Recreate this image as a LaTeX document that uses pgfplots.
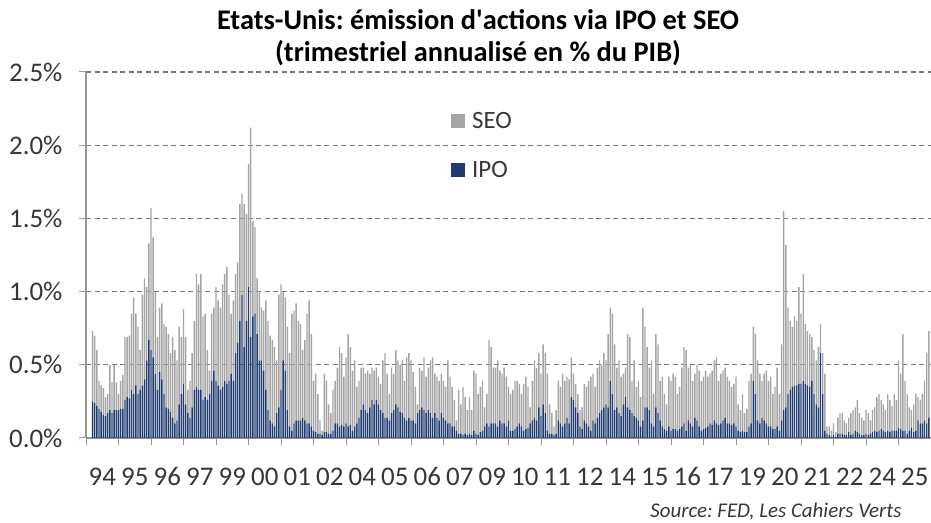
\documentclass[border=0pt]{standalone}
\usepackage{fontspec}
\setmainfont{Carlito}
\usepackage{pgfplots}
\usepackage{pgfplotstable}
\pgfplotsset{compat=1.18}
\frenchspacing
\definecolor{seo}{RGB}{165,165,165}
\definecolor{ipo}{RGB}{31,58,110}
\definecolor{gridc}{RGB}{120,120,120}
\definecolor{axc}{RGB}{150,150,150}
\definecolor{txt}{RGB}{55,55,55}
\pgfplotstableread{
m ipo seo
0 0.25 0.48
1 0.24 0.46
2 0.22 0.38
3 0.20 0.19
4 0.18 0.18
5 0.16 0.18
6 0.15 0.13
7 0.17 0.13
8 0.19 0.31
9 0.17 0.21
10 0.19 0.31
11 0.19 0.19
12 0.19 0.11
13 0.20 0.19
14 0.20 0.23
15 0.26 0.43
16 0.28 0.41
17 0.27 0.43
18 0.33 0.52
19 0.30 0.66
20 0.36 0.49
21 0.30 0.46
22 0.33 0.27
23 0.36 0.62
24 0.40 0.69
25 0.53 0.50
26 0.67 0.66
27 0.60 0.97
28 0.55 0.82
29 0.44 0.56
30 0.33 0.36
31 0.45 0.44
32 0.40 0.52
33 0.30 0.48
34 0.21 0.55
35 0.20 0.51
36 0.18 0.40
37 0.14 0.55
38 0.10 0.50
39 0.12 0.41
40 0.23 0.53
41 0.30 0.39
42 0.37 0.51
43 0.23 0.46
44 0.17 0.16
45 0.14 0.25
46 0.21 0.37
47 0.33 0.47
48 0.35 0.77
49 0.33 0.72
50 0.33 0.79
51 0.26 0.57
52 0.28 0.57
53 0.26 0.34
54 0.30 0.16
55 0.39 0.46
56 0.46 0.43
57 0.39 0.64
58 0.36 0.58
59 0.33 0.56
60 0.35 0.70
61 0.39 0.73
62 0.37 0.80
63 0.39 0.59
64 0.44 0.41
65 0.39 0.55
66 0.58 0.54
67 0.65 0.55
68 0.80 0.80
69 0.98 0.69
70 0.62 0.98
71 0.80 0.73
72 1.03 0.84
73 0.69 1.43
74 0.83 0.65
75 0.85 0.59
76 0.71 0.38
77 0.53 0.47
78 0.53 0.36
79 0.46 0.41
80 0.33 0.61
81 0.19 0.61
82 0.12 0.58
83 0.10 0.57
84 0.08 0.54
85 0.17 0.36
86 0.21 0.77
87 0.33 0.72
88 0.53 0.47
89 0.46 0.50
90 0.19 0.57
91 0.08 0.50
92 0.05 0.80
93 0.10 0.77
94 0.12 0.80
95 0.12 0.68
96 0.12 0.66
97 0.14 0.46
98 0.12 0.55
99 0.10 0.75
100 0.10 0.84
101 0.08 0.63
102 0.05 0.34
103 0.04 0.40
104 0.03 0.27
105 0.03 0.09
106 0.02 0.03
107 0.04 0.40
108 0.04 0.35
109 0.03 0.20
110 0.03 0.14
111 0.05 0.28
112 0.10 0.29
113 0.10 0.38
114 0.08 0.54
115 0.09 0.49
116 0.08 0.34
117 0.10 0.45
118 0.08 0.63
119 0.09 0.53
120 0.05 0.41
121 0.08 0.45
122 0.10 0.25
123 0.14 0.25
124 0.19 0.29
125 0.23 0.25
126 0.19 0.25
127 0.17 0.29
128 0.21 0.23
129 0.26 0.22
130 0.23 0.23
131 0.26 0.22
132 0.23 0.19
133 0.19 0.18
134 0.17 0.36
135 0.14 0.44
136 0.14 0.30
137 0.12 0.18
138 0.17 0.31
139 0.19 0.25
140 0.23 0.37
141 0.21 0.32
142 0.18 0.32
143 0.17 0.36
144 0.14 0.25
145 0.12 0.43
146 0.14 0.44
147 0.12 0.41
148 0.12 0.33
149 0.10 0.25
150 0.17 0.06
151 0.19 0.29
152 0.21 0.25
153 0.19 0.36
154 0.17 0.25
155 0.19 0.29
156 0.17 0.36
157 0.14 0.41
158 0.17 0.27
159 0.14 0.28
160 0.12 0.27
161 0.17 0.27
162 0.14 0.25
163 0.12 0.23
164 0.10 0.43
165 0.10 0.32
166 0.08 0.27
167 0.08 0.18
168 0.05 0.07
169 0.03 0.30
170 0.03 0.20
171 0.02 0.33
172 0.03 0.25
173 0.02 0.17
174 0.03 0.25
175 0.02 0.17
176 0.05 0.41
177 0.03 0.41
178 0.02 0.28
179 0.04 0.31
180 0.05 0.34
181 0.08 0.13
182 0.10 0.20
183 0.08 0.59
184 0.10 0.52
185 0.10 0.38
186 0.10 0.38
187 0.08 0.45
188 0.12 0.34
189 0.10 0.34
190 0.10 0.38
191 0.08 0.34
192 0.12 0.23
193 0.05 0.25
194 0.05 0.28
195 0.06 0.33
196 0.08 0.31
197 0.10 0.27
198 0.08 0.22
199 0.05 0.32
200 0.06 0.36
201 0.07 0.28
202 0.10 0.11
203 0.12 0.27
204 0.14 0.39
205 0.12 0.36
206 0.21 0.37
207 0.15 0.29
208 0.23 0.41
209 0.17 0.41
210 0.05 0.39
211 0.03 0.20
212 0.03 0.14
213 0.02 0.06
214 0.03 0.16
215 0.12 0.27
216 0.10 0.25
217 0.08 0.36
218 0.10 0.29
219 0.14 0.28
220 0.10 0.30
221 0.28 0.27
222 0.26 0.18
223 0.21 0.16
224 0.17 0.13
225 0.08 0.11
226 0.06 0.15
227 0.12 0.25
228 0.10 0.25
229 0.08 0.31
230 0.05 0.37
231 0.12 0.32
232 0.10 0.25
233 0.14 0.34
234 0.17 0.36
235 0.19 0.31
236 0.21 0.37
237 0.23 0.30
238 0.21 0.50
239 0.39 0.50
240 0.30 0.55
241 0.19 0.45
242 0.21 0.27
243 0.17 0.36
244 0.15 0.27
245 0.23 0.21
246 0.28 0.20
247 0.21 0.50
248 0.19 0.50
249 0.17 0.22
250 0.15 0.38
251 0.14 0.21
252 0.12 0.27
253 0.08 0.20
254 0.12 0.77
255 0.21 0.55
256 0.21 0.41
257 0.19 0.29
258 0.10 0.43
259 0.08 0.22
260 0.21 0.50
261 0.17 0.47
262 0.12 0.27
263 0.08 0.34
264 0.06 0.24
265 0.05 0.18
266 0.08 0.34
267 0.05 0.34
268 0.06 0.38
269 0.06 0.36
270 0.05 0.25
271 0.06 0.29
272 0.08 0.40
273 0.10 0.52
274 0.05 0.55
275 0.12 0.36
276 0.10 0.40
277 0.08 0.31
278 0.14 0.30
279 0.12 0.38
280 0.08 0.38
281 0.05 0.34
282 0.06 0.36
283 0.07 0.39
284 0.08 0.34
285 0.10 0.34
286 0.09 0.37
287 0.12 0.41
288 0.10 0.45
289 0.09 0.30
290 0.10 0.34
291 0.12 0.34
292 0.14 0.34
293 0.10 0.32
294 0.10 0.29
295 0.09 0.26
296 0.10 0.27
297 0.08 0.34
298 0.05 0.18
299 0.04 0.15
300 0.05 0.25
301 0.04 0.13
302 0.04 0.16
303 0.08 0.31
304 0.10 0.34
305 0.39 0.37
306 0.30 0.41
307 0.12 0.41
308 0.10 0.34
309 0.14 0.25
310 0.12 0.32
311 0.10 0.36
312 0.08 0.31
313 0.08 0.34
314 0.06 0.24
315 0.06 0.29
316 0.08 0.40
317 0.05 0.25
318 0.12 0.52
319 0.19 1.36
320 0.21 1.11
321 0.30 0.59
322 0.33 0.47
323 0.35 0.41
324 0.36 0.47
325 0.36 0.44
326 0.37 0.66
327 0.37 0.48
328 0.39 0.73
329 0.37 0.41
330 0.36 0.37
331 0.35 0.36
332 0.39 0.30
333 0.30 0.30
334 0.23 0.30
335 0.21 0.41
336 0.58 0.20
337 0.30 0.28
338 0.05 0.39
339 0.03 0.05
340 0.02 0.06
341 0.01 0.04
342 0.02 0.08
343 0.01 0.03
344 0.03 0.11
345 0.03 0.14
346 0.03 0.14
347 0.02 0.10
348 0.02 0.08
349 0.04 0.10
350 0.02 0.15
351 0.03 0.16
352 0.05 0.16
353 0.04 0.22
354 0.03 0.14
355 0.02 0.12
356 0.02 0.10
357 0.03 0.16
358 0.02 0.15
359 0.03 0.09
360 0.04 0.15
361 0.05 0.16
362 0.04 0.24
363 0.05 0.25
364 0.06 0.20
365 0.05 0.18
366 0.04 0.15
367 0.05 0.25
368 0.04 0.22
369 0.05 0.17
370 0.05 0.25
371 0.05 0.21
372 0.07 0.46
373 0.06 0.38
374 0.05 0.66
375 0.05 0.34
376 0.03 0.27
377 0.05 0.16
378 0.07 0.12
379 0.04 0.19
380 0.05 0.25
381 0.12 0.16
382 0.10 0.16
383 0.10 0.20
384 0.12 0.27
385 0.10 0.48
386 0.14 0.59
}\data
\begin{document}
\begin{tikzpicture}
\useasboundingbox (0bp,0bp) rectangle (931bp,523bp);
\begin{axis}[
  at={(86bp,85bp)}, anchor=south west,
  scale only axis, width=845bp, height=366bp,
  ybar stacked, bar width=1.35bp,
  xmin=-3, xmax=387, ymin=0, ymax=2.5,
  axis lines*=left,
  axis line style={axc, line width=1.3bp},
  xtick={-3,12,...,387},
  x tick label as interval,
  xticklabels={94,95,96,97,99,00,01,02,04,05,06,07,09,10,11,12,14,15,16,17,19,20,21,22,24,25},
  ytick={0,0.5,1,1.5,2,2.5},
  yticklabels={0.0\%,0.5\%,1.0\%,1.5\%,2.0\%,2.5\%},
  ymajorgrids,
  grid style={gridc, dash pattern=on 5bp off 3.5bp, line width=1.1bp},
  tick style={axc, line width=1bp},
  major tick length=7bp,
  tick align=outside,
  ticklabel style={font=\fontsize{27}{30}\selectfont, text=txt},
  xticklabel style={anchor=base, yshift=-40bp},
  yticklabel style={xshift=-13bp},
  legend style={at={(rel axis cs:0.4284,0.898)}, anchor=north west, draw=none, fill=none,
    font=\fontsize{25}{28}\selectfont, text=txt, row sep=29bp,
    nodes={inner sep=1bp},
    /tikz/every odd column/.append style={column sep=6bp}},
  legend cell align=left,
  legend image code/.code={\fill[#1] (0bp,-7bp) rectangle (14bp,7bp);},
  reverse legend,
]
\addplot[fill=ipo, draw=none] table[x=m, y=ipo] {\data};
\addplot[fill=seo, draw=none] table[x=m, y=seo] {\data};
\legend{IPO,SEO}
\end{axis}
\node[anchor=base, font=\fontsize{28.5}{32}\bfseries\selectfont] at (478bp,493bp) {Etats-Unis: émission d\textquotesingle actions via IPO et SEO};
\node[anchor=base, font=\fontsize{28.5}{32}\bfseries\selectfont] at (478bp,461bp) {(trimestriel annualisé en \% du PIB)};
\node[anchor=base east, font=\fontsize{21}{24}\itshape\selectfont, text=txt] at (905bp,6bp) {Source: FED, Les Cahiers Verts};
\end{tikzpicture}
\end{document}
